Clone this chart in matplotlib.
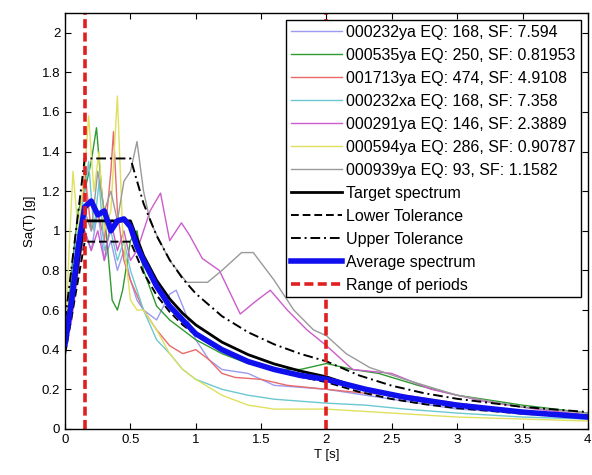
import matplotlib
matplotlib.use("Agg")
import matplotlib.pyplot as plt
import numpy as np

# ---------------- data ----------------
rec_labels = [
    "000232ya EQ: 168, SF: 7.594",
    "000535ya EQ: 250, SF: 0.81953",
    "001713ya EQ: 474, SF: 4.9108",
    "000232xa EQ: 168, SF: 7.358",
    "000291ya EQ: 146, SF: 2.3889",
    "000594ya EQ: 286, SF: 0.90787",
    "000939ya EQ: 93, SF: 1.1582",
]
rec_colors = ["#9a9af0", "#2f9a2f", "#e86a6a", "#6cc8d0", "#cc5ccc", "#e0e060", "#9a9a9a"]

rec1_T = [0, 0.05, 0.1, 0.15, 0.2, 0.25, 0.3, 0.35, 0.4, 0.45, 0.5, 0.55, 0.6, 0.7, 0.8, 0.85, 0.9, 1.0, 1.1, 1.2, 1.4, 1.6, 1.8, 2.0, 2.2, 2.5, 3.0, 3.5, 4.0]
rec1_S = [0.45, 0.7, 0.95, 1.0, 0.9, 1.1, 0.85, 0.95, 0.8, 0.9, 0.75, 0.65, 0.6, 0.55, 0.68, 0.7, 0.62, 0.45, 0.35, 0.3, 0.28, 0.22, 0.21, 0.2, 0.18, 0.15, 0.1, 0.08, 0.06]

rec2_T = [0, 0.05, 0.1, 0.15, 0.2, 0.24, 0.28, 0.32, 0.36, 0.4, 0.44, 0.5, 0.55, 0.6, 0.7, 0.8, 0.9, 1.0, 1.2, 1.4, 1.6, 1.8, 2.0, 2.2, 2.4, 2.7, 3.0, 3.5, 4.0]
rec2_S = [0.42, 0.8, 1.1, 1.2, 1.35, 1.52, 1.2, 0.95, 0.65, 0.6, 0.7, 0.95, 1.0, 0.8, 0.62, 0.55, 0.5, 0.45, 0.38, 0.33, 0.3, 0.3, 0.33, 0.3, 0.28, 0.22, 0.17, 0.12, 0.08]

rec3_T = [0, 0.05, 0.1, 0.15, 0.2, 0.25, 0.3, 0.35, 0.37, 0.4, 0.45, 0.5, 0.6, 0.7, 0.8, 0.9, 1.0, 1.1, 1.2, 1.3, 1.5, 1.7, 2.0, 2.3, 2.6, 3.0, 3.5, 4.0]
rec3_S = [0.4, 0.6, 0.9, 1.3, 1.0, 1.1, 0.95, 1.3, 1.5, 1.1, 0.85, 0.75, 0.6, 0.5, 0.42, 0.38, 0.4, 0.35, 0.28, 0.26, 0.25, 0.22, 0.2, 0.18, 0.17, 0.13, 0.09, 0.06]

rec4_T = [0, 0.05, 0.1, 0.15, 0.18, 0.22, 0.26, 0.3, 0.35, 0.4, 0.45, 0.5, 0.55, 0.6, 0.7, 0.8, 0.9, 1.0, 1.2, 1.4, 1.6, 1.8, 2.0, 2.3, 2.6, 3.0, 3.5, 4.0]
rec4_S = [0.45, 0.7, 1.0, 1.2, 1.35, 1.0, 1.25, 0.9, 1.0, 0.85, 0.95, 0.8, 0.7, 0.6, 0.45, 0.38, 0.3, 0.25, 0.2, 0.17, 0.15, 0.14, 0.13, 0.12, 0.1, 0.08, 0.06, 0.05]

rec5_T = [0, 0.05, 0.1, 0.15, 0.2, 0.25, 0.3, 0.35, 0.4, 0.45, 0.5, 0.55, 0.6, 0.65, 0.73, 0.8, 0.89, 0.95, 1.05, 1.18, 1.34, 1.45, 1.57, 1.7, 1.85, 2.0, 2.2, 2.5, 2.8, 3.2, 3.6, 4.0]
rec5_S = [0.4, 0.55, 0.8, 1.0, 0.9, 1.0, 0.85, 1.05, 0.9, 1.0, 0.85, 0.9, 1.0, 1.1, 1.19, 0.95, 1.04, 0.98, 0.86, 0.8, 0.58, 0.64, 0.70, 0.6, 0.5, 0.42, 0.3, 0.28, 0.2, 0.14, 0.1, 0.07]

rec6_T = [0, 0.03, 0.06, 0.1, 0.15, 0.18, 0.22, 0.26, 0.3, 0.35, 0.4, 0.44, 0.5, 0.55, 0.6, 0.7, 0.8, 0.9, 1.0, 1.2, 1.4, 1.6, 1.8, 2.0, 2.5, 3.0, 3.5, 4.0]
rec6_S = [0.4, 0.9, 1.3, 1.0, 1.3, 1.58, 1.2, 1.4, 1.0, 1.1, 1.68, 1.0, 0.65, 0.6, 0.6, 0.5, 0.38, 0.3, 0.25, 0.17, 0.12, 0.1, 0.1, 0.1, 0.08, 0.06, 0.05, 0.04]

rec7_T = [0, 0.05, 0.1, 0.15, 0.2, 0.25, 0.3, 0.35, 0.4, 0.45, 0.5, 0.55, 0.6, 0.65, 0.7, 0.8, 0.93, 1.09, 1.2, 1.35, 1.44, 1.6, 1.75, 1.9, 2.0, 2.15, 2.33, 2.6, 3.0, 3.5, 4.0]
rec7_S = [0.42, 0.6, 0.85, 1.1, 1.0, 1.3, 1.1, 1.2, 1.05, 1.25, 1.3, 1.45, 1.2, 1.05, 0.98, 0.85, 0.74, 0.74, 0.8, 0.89, 0.89, 0.75, 0.6, 0.5, 0.47, 0.38, 0.31, 0.25, 0.17, 0.11, 0.08]

target_T = [0, 0.15, 0.5, 0.6, 0.7, 0.8, 0.9, 1.0, 1.2, 1.4, 1.6, 1.8, 2.0, 2.25, 2.5, 2.75, 3.0, 3.5, 4.0]
target_S = [0.42, 1.05, 1.05, 0.875, 0.75, 0.656, 0.583, 0.525, 0.438, 0.375, 0.328, 0.292, 0.263, 0.207, 0.168, 0.139, 0.117, 0.086, 0.066]
lower_S = [0.378, 0.945, 0.945, 0.788, 0.675, 0.591, 0.525, 0.473, 0.394, 0.338, 0.295, 0.263, 0.236, 0.187, 0.151, 0.125, 0.105, 0.077, 0.059]
upper_S = [0.546, 1.365, 1.365, 1.138, 0.975, 0.853, 0.758, 0.683, 0.569, 0.488, 0.427, 0.379, 0.341, 0.270, 0.218, 0.180, 0.152, 0.111, 0.085]

avg_T = [0, 0.05, 0.1, 0.15, 0.2, 0.25, 0.3, 0.35, 0.4, 0.45, 0.5, 0.55, 0.6, 0.7, 0.8, 0.9, 1.0, 1.2, 1.4, 1.6, 1.8, 2.0, 2.3, 2.6, 3.0, 3.5, 4.0]
avg_S = [0.43, 0.65, 0.92, 1.12, 1.15, 1.08, 1.1, 1.0, 1.05, 1.06, 1.02, 0.92, 0.85, 0.72, 0.62, 0.55, 0.48, 0.4, 0.34, 0.3, 0.27, 0.25, 0.2, 0.16, 0.12, 0.085, 0.06]

range_T = [0.15, 2.0]

x_ticks = [0, 0.5, 1, 1.5, 2, 2.5, 3, 3.5, 4]
x_ticklabels = ["0", "0.5", "1", "1.5", "2", "2.5", "3", "3.5", "4"]
y_ticks = [0, 0.2, 0.4, 0.6, 0.8, 1.0, 1.2, 1.4, 1.6, 1.8, 2.0]
y_ticklabels = ["0", "0.2", "0.4", "0.6", "0.8", "1", "1.2", "1.4", "1.6", "1.8", "2"]

# ---------------- plot ----------------
plt.rcParams["font.family"] = ["Liberation Sans", "DejaVu Sans"]
fig = plt.figure(figsize=(5.92, 4.75), dpi=100)
ax = fig.add_axes([0.110, 0.097, 0.883, 0.876])

recs = [(rec1_T, rec1_S), (rec2_T, rec2_S), (rec3_T, rec3_S), (rec4_T, rec4_S),
        (rec5_T, rec5_S), (rec6_T, rec6_S), (rec7_T, rec7_S)]
for (t, s), c, lab in zip(recs, rec_colors, rec_labels):
    ax.plot(t, s, color=c, lw=1.0, label=lab)

ax.plot(target_T, target_S, color="black", lw=2.0, label="Target spectrum")
ax.plot(target_T, lower_S, color="black", lw=1.4, ls=(0, (4, 2)), label="Lower Tolerance")
ax.plot(target_T, upper_S, color="black", lw=1.4, ls=(0, (5, 2, 1, 2)), label="Upper Tolerance")
ax.plot(avg_T, avg_S, color="#1010ee", lw=4.0, label="Average spectrum")
for i, rt in enumerate(range_T):
    ax.axvline(rt, color="#e02020", lw=2.6, ls=(0, (2.5, 1.2)),
               label="Range of periods" if i == 0 else None)

ax.set_xlim(0, 4)
ax.set_ylim(0, 2.1)
ax.set_xticks(x_ticks)
ax.set_xticklabels(x_ticklabels)
ax.set_yticks(y_ticks)
ax.set_yticklabels(y_ticklabels)
ax.tick_params(direction="in", top=True, right=True, labelsize=9.5, length=4, width=0.8)
for sp in ax.spines.values():
    sp.set_linewidth(1.0)
ax.set_xlabel("T [s]", fontsize=9.5, labelpad=2)
ax.set_ylabel("Sa(T) [g]", fontsize=9.5, labelpad=4)

leg = ax.legend(loc="upper right", fontsize=11.5, frameon=True, fancybox=False,
                edgecolor="black", framealpha=1, borderaxespad=0.45,
                handlelength=3.2, handletextpad=0.25, labelspacing=0.5,
                borderpad=0.3)
leg.get_frame().set_linewidth(1.0)

fig.savefig("out.png", dpi=100)
